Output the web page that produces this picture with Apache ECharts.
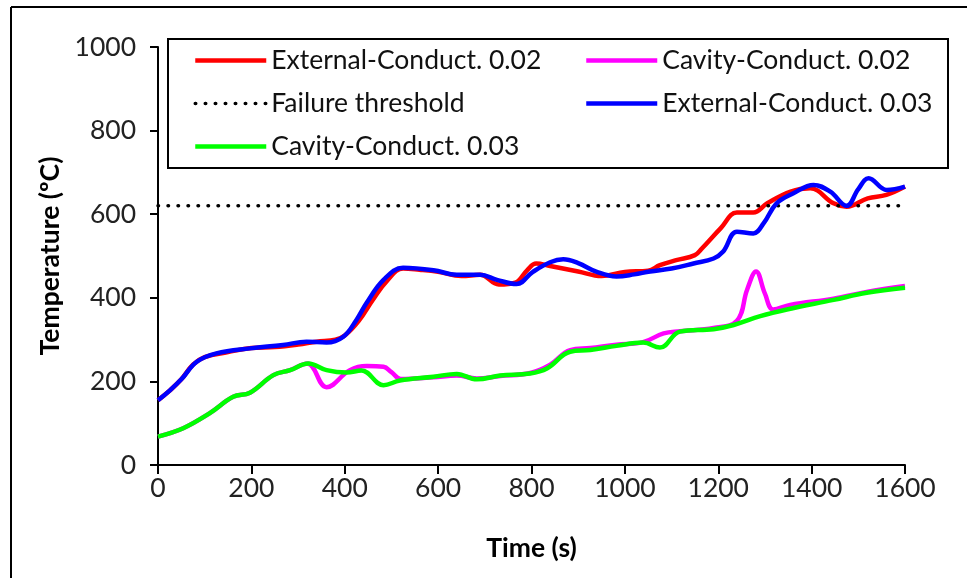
<!DOCTYPE html>
<html>
<head>
<meta charset="utf-8">
<script src="https://cdn.jsdelivr.net/npm/echarts@6/dist/echarts.min.js"></script>
<style>html,body{margin:0;padding:0;background:#fff;}#c{width:967px;height:578px;}</style>
</head>
<body>
<div id="c"></div>
<script>
// ---- Data ----
const xTicks = [0, 200, 400, 600, 800, 1000, 1200, 1400, 1600];
const yTicks = [0, 200, 400, 600, 800, 1000];

const extT02 = [0,25,50,75,100,150,200,250,300,340,380,400,430,460,490,525,560,600,650,690,730,765,790,810,840,900,950,1000,1050,1075,1110,1150,1165,1205,1240,1275,1305,1355,1397,1447,1475,1520,1560,1600];
const extV02 = [155,178,205,240,258,270,280,282,288,295,300,310,345,395,440,470,467,462,452,455,432,436,465,482,476,463,452,462,465,478,490,502,518,566,604,604,626,654,662,626,618,638,646,666];

const cavT02 = [0,54,111,161,197,247,283,320,361,411,447,483,500,520,590,640,683,733,797,840,883,926,982,1039,1083,1118,1190,1240,1262,1281,1300,1318,1354,1447,1518,1600];
const cavV02 = [68,88,124,163,173,215,227,243,186,227,237,235,222,206,210,214,207,213,220,240,275,280,288,294,315,320,328,345,420,463,410,372,383,398,414,428];

const thrT = [0, 1600];
const thrV = [620, 620];

const extT03 = [0,25,50,83,125,197,268,318,361,397,425,447,483,525,590,640,690,726,768,803,840,868,900,940,982,1020,1054,1100,1147,1190,1210,1240,1275,1297,1325,1361,1404,1440,1475,1500,1522,1561,1600];
const extV03 = [155,178,205,247,267,279,287,295,293,307,347,388,443,472,466,455,455,443,433,462,485,492,483,462,451,456,463,470,482,494,510,558,554,578,626,650,670,654,620,660,686,658,666];

const cavT03 = [0,54,111,161,197,247,283,322,361,404,436,483,518,590,640,683,733,797,833,883,926,982,1039,1075,1118,1190,1233,1290,1347,1447,1518,1600];
const cavV03 = [68,88,124,163,173,215,227,243,227,221,226,191,202,211,218,205,214,219,231,271,275,285,293,281,319,325,335,356,372,395,412,424];

const names = ['External-Conduct. 0.02','Cavity-Conduct. 0.02','Failure threshold','External-Conduct. 0.03','Cavity-Conduct. 0.03'];

function pairs(t, v){ return t.map((x,i)=>[x, v[i]]); }

const FONT = 'Lato';
const FS = 26.5;
const chart = echarts.init(document.getElementById('c'));
const lineW = 4.5;
function lineSeries(name, t, v, color){
  return {name, type:'line', data: pairs(t,v), smooth:0.4, showSymbol:false, symbol:'none',
    lineStyle:{color, width:lineW}, itemStyle:{color}, emphasis:{disabled:true}};
}
const legendText = {fontFamily:FONT, fontSize:FS, color:'#111', lineHeight:27};
const solidItem = (n)=>({name:n, itemStyle:{opacity:0}, lineStyle:{width:lineW}});
const dotItem = (n)=>({name:n, itemStyle:{opacity:0}, lineStyle:{width:3.5}});
const legendBase = {orient:'vertical', top:47, padding:0, itemWidth:71, itemHeight:27, itemGap:16,
  textStyle:legendText, selectedMode:false};
chart.setOption({
  animation:false,
  backgroundColor:'#fff',
  grid:{left:158, right:62, top:47, bottom:113, containLabel:false},
  xAxis:{type:'value', min:0, max:1600, interval:200,
    name:'Time (s)', nameLocation:'middle', nameGap:70,
    nameTextStyle:{fontFamily:FONT, fontSize:FS, fontWeight:'bold', color:'#000'},
    axisLine:{lineStyle:{color:'#000', width:2}},
    axisTick:{show:true, inside:false, length:9, lineStyle:{color:'#000', width:2}},
    axisLabel:{fontFamily:FONT, fontSize:FS, color:'#222', margin:10,
      formatter:(v)=> xTicks.includes(v) ? String(v) : ''},
    splitLine:{show:false}},
  yAxis:{type:'value', min:0, max:1000, interval:200,
    name:'Temperature (ºC)', nameLocation:'middle', nameGap:85, nameRotate:90,
    nameTextStyle:{fontFamily:FONT, fontSize:FS, fontWeight:'bold', color:'#000'},
    axisLine:{show:true, lineStyle:{color:'#000', width:2}},
    axisTick:{show:true, inside:false, length:8, lineStyle:{color:'#000', width:2}},
    axisLabel:{fontFamily:FONT, fontSize:FS, color:'#222', margin:22,
      formatter:(v)=> yTicks.includes(v) ? String(v) : ''},
    splitLine:{show:false}},
  legend:[
    Object.assign({}, legendBase, {left:193, data:[solidItem(names[0]), dotItem(names[2]), solidItem(names[4])]}),
    Object.assign({}, legendBase, {left:584, data:[solidItem(names[1]), solidItem(names[3])]})
  ],
  graphic:[
    {type:'rect', shape:{x:168, y:39, width:780, height:129}, style:{fill:'none', stroke:'#000', lineWidth:2}, z:10},
    {type:'line', shape:{x1:11, y1:7, x2:967, y2:7}, style:{stroke:'#000', lineWidth:2}},
    {type:'line', shape:{x1:11, y1:7, x2:11, y2:578}, style:{stroke:'#000', lineWidth:2}}
  ],
  series:[
    lineSeries(names[0], extT02, extV02, '#ff0000'),
    lineSeries(names[1], cavT02, cavV02, '#ff00ff'),
    {name:names[2], type:'line', data:pairs(thrT, thrV), showSymbol:false, symbol:'none',
      lineStyle:{color:'#000', width:3.5, type:[0.5, 9.5], cap:'round'}, itemStyle:{color:'#000'}, emphasis:{disabled:true}},
    lineSeries(names[3], extT03, extV03, '#0000ff'),
    lineSeries(names[4], cavT03, cavV03, '#00ff00')
  ]
});
</script>
</body>
</html>
